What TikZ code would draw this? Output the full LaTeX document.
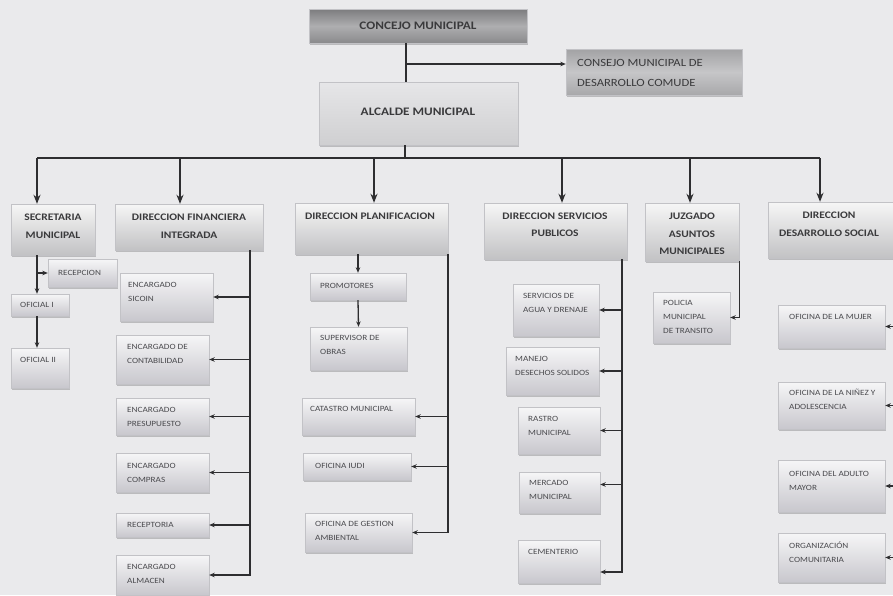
\documentclass[tikz,border=0pt]{standalone}
\usepackage{fontspec}
\setmainfont[FakeStretch=1.15]{Carlito}
\usetikzlibrary{arrows.meta,shadows}
\definecolor{bgc}{HTML}{EAEAEC}
\definecolor{bord}{HTML}{C2C2C6}
\definecolor{sbtop}{HTML}{F6F6F7}
\definecolor{sbbot}{HTML}{C8C7CD}
\definecolor{hdtop}{HTML}{F6F6F6}
\definecolor{hdbot}{HTML}{C2C2C4}
\definecolor{cjtop}{HTML}{7C7C7E}
\definecolor{cjmid}{HTML}{AEAEB0}
\definecolor{cjbot}{HTML}{8A8A8C}
\definecolor{cmtop}{HTML}{A2A2A4}
\definecolor{cmmid}{HTML}{C6C6C8}
\definecolor{cmbot}{HTML}{A8A8AA}
\definecolor{altop}{HTML}{E6E6E8}
\definecolor{albot}{HTML}{CFCFD1}
\definecolor{lnc}{HTML}{2E2E30}
\definecolor{stc}{HTML}{4A4A4E}
\definecolor{htc}{HTML}{3A3A3C}
\newcommand\obox[6]{\node[#1, minimum width={(#5-#3)*1pt}, minimum height={(#6-#4)*1pt}] (#2) at ({(#3+#5)/2},{(#4+#6)/2}) {};}
\tikzset{
  boxbase/.style={rectangle, inner sep=0pt, draw=bord, line width=0.4pt,
    drop shadow={shadow xshift=1pt, shadow yshift=-1.6pt, opacity=0.35, fill=black!60}},
  sbox/.style={boxbase, top color=sbtop, bottom color=sbbot},
  hbox/.style={boxbase, top color=hdtop, bottom color=hdbot},
  cjbox/.style={boxbase, top color=cjtop, bottom color=cjbot, middle color=cjmid},
  cmbox/.style={boxbase, top color=cmtop, bottom color=cmbot, middle color=cmmid},
  albox/.style={boxbase, top color=altop, bottom color=albot},
  stxt/.style={anchor=west, align=left, inner sep=0pt, text=stc, font=\fontsize{8}{14}\selectfont},
  htxt/.style={anchor=center, align=center, inner sep=0pt, text=htc, font=\bfseries\fontsize{10}{17.5}\selectfont},
  ttxt/.style={anchor=center, align=center, inner sep=0pt, text=htc, font=\bfseries\fontsize{11.5}{14}\selectfont},
  ctxt/.style={anchor=west, align=left, inner sep=0pt, text=htc, font=\fontsize{11}{20}\selectfont},
  conn/.style={draw=lnc, line width=1.3pt},
  connarr/.style={conn, -{Stealth[length=5.5pt,width=4.5pt]}},
  busline/.style={draw=lnc, line width=2.2pt},
  busarr/.style={busline, -{Stealth[length=9pt,width=7pt]}},
}
\begin{document}
\begin{tikzpicture}[x=1pt,y=-1pt]
\useasboundingbox (0,0) rectangle (893,595);
\fill[bgc] (0,0) rectangle (893,595);

% top level
\obox{cjbox}{concejo}{309}{9}{527}{43}
\node[ttxt] (concejo-t) at (418,26) {CONCEJO MUNICIPAL};
\obox{cmbox}{comude}{566}{49}{742}{95}
\node[ctxt] (comude-t) at (577,73) {CONSEJO MUNICIPAL DE\\DESARROLLO COMUDE};
\obox{albox}{alcalde}{319}{82}{518}{145}
\node[ttxt] (alcalde-t) at (418,112) {ALCALDE MUNICIPAL};

% level 2
\obox{hbox}{secr}{11}{204}{95}{255}
\node[htxt] (secr-t) at (53,226.5) {SECRETARIA\\MUNICIPAL};
\obox{hbox}{fin}{115}{204}{263}{250}
\node[htxt] (fin-t) at (189,226) {DIRECCION FINANCIERA\\INTEGRADA};
\obox{hbox}{plan}{295}{203}{448}{254}
\node[htxt] (plan-t) at (370,216) {DIRECCION PLANIFICACION};
\obox{hbox}{serv}{484}{203}{627}{259}
\node[htxt] (serv-t) at (555,225) {DIRECCION SERVICIOS\\PUBLICOS};
\obox{hbox}{juz}{645}{203}{739}{261}
\node[htxt] (juz-t) at (692,234) {JUZGADO\\ASUNTOS\\MUNICIPALES};
\obox{hbox}{des}{768}{202}{900}{258}
\node[htxt] (des-t) at (829,224) {DIRECCION\\DESARROLLO SOCIAL};

% secretaria children
\obox{sbox}{recep}{48}{259}{117}{287}
\node[stxt] (recep-t) at (58,273) {RECEPCION};
\obox{sbox}{of1}{11}{294}{69}{316}
\node[stxt] (of1-t) at (20,305) {OFICIAL I};
\obox{sbox}{of2}{11}{348}{69}{388}
\node[stxt] (of2-t) at (20,360) {OFICIAL II};

% financiera children
\obox{sbox}{sicoin}{120}{273}{213}{321}
\node[stxt] (sicoin-t) at (128,292) {ENCARGADO\\SICOIN};
\obox{sbox}{conta}{116}{335}{209}{384}
\node[stxt] (conta-t) at (127,353.5) {ENCARGADO DE\\CONTABILIDAD};
\obox{sbox}{presu}{116}{398}{209}{435}
\node[stxt] (presu-t) at (127,417) {ENCARGADO\\PRESUPUESTO};
\obox{sbox}{compras}{116}{453}{209}{492}
\node[stxt] (compras-t) at (127,472.5) {ENCARGADO\\COMPRAS};
\obox{sbox}{recept}{116}{513}{209}{537}
\node[stxt] (recept-t) at (127,525) {RECEPTORIA};
\obox{sbox}{almacen}{116}{555}{209}{595}
\node[stxt] (almacen-t) at (127,573.5) {ENCARGADO\\ALMACEN};

% planificacion children
\obox{sbox}{prom}{310}{273}{406}{300}
\node[stxt] (prom-t) at (320,286) {PROMOTORES};
\obox{sbox}{sup}{310}{327}{407}{370}
\node[stxt] (sup-t) at (320,345) {SUPERVISOR DE\\OBRAS};
\obox{sbox}{catastro}{302}{398}{415}{435}
\node[stxt] (catastro-t) at (310,409) {CATASTRO MUNICIPAL};
\obox{sbox}{iudi}{303}{453}{411}{480}
\node[stxt] (iudi-t) at (315,466) {OFICINA IUDI};
\obox{sbox}{gestion}{305}{513}{412}{552}
\node[stxt] (gestion-t) at (315,530.5) {OFICINA DE GESTION\\AMBIENTAL};

% servicios children
\obox{sbox}{agua}{513}{284}{599}{336}
\node[stxt] (agua-t) at (523,303) {SERVICIOS DE\\AGUA Y DRENAJE};
\obox{sbox}{desechos}{506}{347}{599}{395}
\node[stxt] (desechos-t) at (515,365.5) {MANEJO\\DESECHOS SOLIDOS};
\obox{sbox}{rastro}{518}{407}{600}{454}
\node[stxt] (rastro-t) at (528,426) {RASTRO\\MUNICIPAL};
\obox{sbox}{mercado}{519}{472}{600}{513}
\node[stxt] (mercado-t) at (529,490) {MERCADO\\MUNICIPAL};
\obox{sbox}{cem}{518}{540}{600}{583}
\node[stxt] (cem-t) at (528,552) {CEMENTERIO};

% juzgado child
\obox{sbox}{policia}{653}{292}{730}{343}
\node[stxt] (policia-t) at (663,317) {POLICIA\\MUNICIPAL\\DE TRANSITO};

% desarrollo social children
\obox{sbox}{mujer}{778}{305}{885}{348}
\node[stxt] (mujer-t) at (789,317) {OFICINA DE LA MUJER};
\obox{sbox}{ninez}{778}{382}{885}{429}
\node[stxt] (ninez-t) at (789,399.5) {OFICINA DE LA NIÑEZ Y\\ADOLESCENCIA};
\obox{sbox}{adulto}{778}{460}{885}{512}
\node[stxt] (adulto-t) at (789,480.5) {OFICINA DEL ADULTO\\MAYOR};
\obox{sbox}{org}{778}{533}{885}{582}
\node[stxt] (org-t) at (789,552.5) {ORGANIZACIÓN\\COMUNITARIA};

% top connectors
\coordinate (stem) at (406,0);
\draw[conn] (concejo.south -| stem) -- (alcalde.north -| stem);
\coordinate (cm) at ([yshift=8pt]comude.west);
\draw[connarr] (stem |- cm) -- (cm);

% bus
\coordinate (bstem) at (405,158);
\coordinate (b1) at (37,158);
\coordinate (b2) at (180,158);
\coordinate (b3) at (374,158);
\coordinate (b4) at (562,158);
\coordinate (b5) at (690,158);
\coordinate (b6) at (820,158);
\draw[busline] (alcalde.south -| bstem) -- (bstem);
\draw[busline] (b1) -- (b6);
\draw[busarr] (b1) -- (b1 |- secr.north);
\draw[busarr] (b2) -- (b2 |- fin.north);
\draw[busarr] (b3) -- (b3 |- plan.north);
\draw[busarr] (b4) -- (b4 |- serv.north);
\draw[busarr] (b5) -- (b5 |- juz.north);
\draw[busarr] (b6) -- (b6 |- des.north);

% secretaria
\draw[connarr] (secr.south -| b1) -- (of1.north -| b1);
\draw[connarr] (b1 |- recep.west) -- (recep.west);
\draw[connarr] (of1.south -| b1) -- (of2.north -| b1);

% financiera
\coordinate (fsx) at (250,0);
\draw[connarr] (fin.south -| fsx) |- (almacen.east);
\draw[connarr] (fsx |- sicoin.east) -- (sicoin.east);
\draw[connarr] (fsx |- conta.east) -- (conta.east);
\draw[connarr] (fsx |- presu.east) -- (presu.east);
\draw[connarr] (fsx |- compras.east) -- (compras.east);
\draw[connarr] (fsx |- recept.east) -- (recept.east);

% planificacion
\draw[connarr] (plan.south -| prom.north) -- (prom.north);
\draw[connarr] (prom.south) -- (sup.north);
\coordinate (psx) at (448,0);
\draw[connarr] (plan.south -| psx) |- (gestion.east);
\draw[connarr] (psx |- catastro.east) -- (catastro.east);
\draw[connarr] (psx |- iudi.east) -- (iudi.east);

% servicios
\coordinate (ssx) at (622,0);
\coordinate (cemin) at ([yshift=-10.5pt]cem.east);
\coordinate (merin) at ([yshift=8pt]mercado.east);
\draw[connarr] (serv.south -| ssx) |- (cemin);
\draw[connarr] (ssx |- agua.east) -- (agua.east);
\draw[connarr] (ssx |- desechos.east) -- (desechos.east);
\draw[connarr] (ssx |- rastro.east) -- (rastro.east);
\draw[connarr] (ssx |- merin) -- (merin);

% juzgado
\draw[connarr] (juz.south east) |- (policia.east);

% desarrollo social
\coordinate (dsx) at (896,0);
\draw[connarr] (des.south -| dsx) |- (org.east);
\draw[connarr] (dsx |- mujer.east) -- (mujer.east);
\draw[connarr] (dsx |- ninez.east) -- (ninez.east);
\draw[connarr] (dsx |- adulto.east) -- (adulto.east);
\end{tikzpicture}
\end{document}
